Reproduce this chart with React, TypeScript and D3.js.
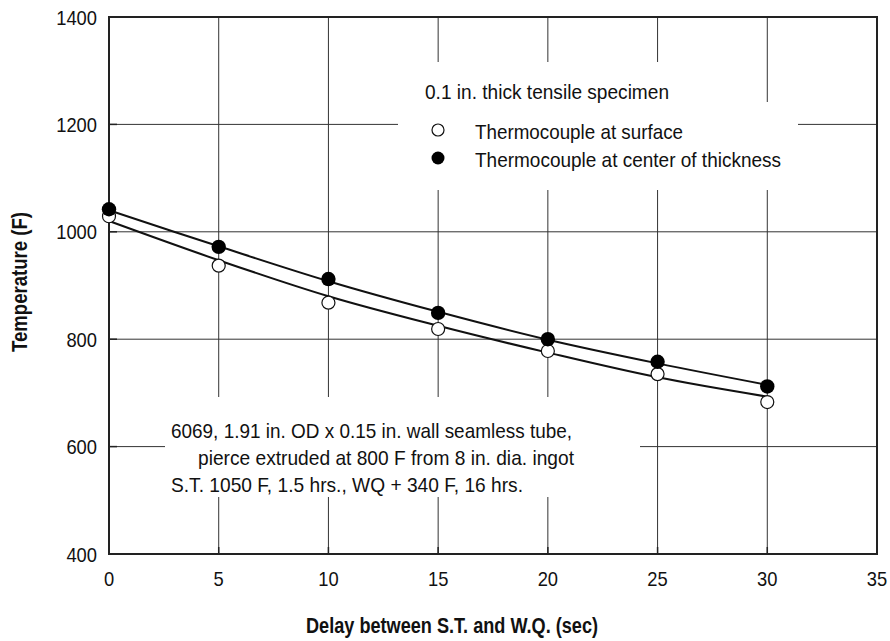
import React from "react";
import * as d3 from "d3";

const xTicks = [0, 5, 10, 15, 20, 25, 30, 35];
const yTicks = [400, 600, 800, 1000, 1200, 1400];

const delays = [0, 5, 10, 15, 20, 25, 30];
const surfaceTemps = [1029, 937, 868, 819, 778, 735, 683];
const centerTemps = [1042, 972, 912, 849, 800, 758, 712];

const upperCurve = [1040, 973, 908, 851, 799, 755, 715];
const lowerCurve = [1020, 947, 880, 825, 775, 729, 693];

const legendTitle = "0.1 in. thick tensile specimen";
const legendLabels = ["Thermocouple at surface", "Thermocouple at center of thickness"];
const noteLines = [
  "6069, 1.91 in. OD x 0.15 in. wall seamless tube,",
  "pierce extruded at 800 F from 8 in. dia. ingot",
  "S.T. 1050 F, 1.5 hrs., WQ + 340 F, 16 hrs.",
];

const FONT = "'Liberation Sans', Arial, sans-serif";

function NText(props: {
  x: number;
  y: number;
  w: number;
  size?: number;
  anchor?: string;
  bold?: boolean;
  transform?: string;
  children: React.ReactNode;
}) {
  return (
    <text
      x={props.x}
      y={props.y}
      transform={props.transform}
      textAnchor={props.anchor || "start"}
      fontFamily={FONT}
      fontSize={props.size || 21}
      fontWeight={props.bold ? "bold" : "normal"}
      textLength={props.w}
      lengthAdjust="spacingAndGlyphs"
      fill="#111"
    >
      {props.children}
    </text>
  );
}

export default function App() {
  const W = 890, H = 641;
  const L = 109, R = 877, T = 17, B = 554;
  const x = d3.scaleLinear().domain([0, 35]).range([L, R]);
  const y = d3.scaleLinear().domain([400, 1400]).range([B, T]);

  const line = d3
    .line<number>()
    .x((_, i) => x(delays[i]))
    .y((d) => y(d))
    .curve(d3.curveCatmullRom.alpha(0.5));

  return (
    <svg width={W} height={H} style={{ position: "absolute", left: 0, top: 0, background: "#fff" }}>
      <rect x={0} y={0} width={W} height={H} fill="#fff" />
      {/* grid */}
      {xTicks.slice(1, -1).map((t) => (
        <line key={"gx" + t} x1={x(t)} x2={x(t)} y1={T} y2={B} stroke="#333" strokeWidth={1} />
      ))}
      {yTicks.slice(1, -1).map((t) => (
        <line key={"gy" + t} x1={L} x2={R} y1={y(t)} y2={y(t)} stroke="#333" strokeWidth={1} />
      ))}
      {/* white boxes behind text */}
      <rect x={398} y={62} width={367} height={40} fill="#fff" />
      <rect x={398} y={102} width={400} height={88} fill="#fff" />
      <rect x={165} y={397} width={475} height={100} fill="#fff" />
      {/* inward ticks */}
      {xTicks.slice(1, -1).map((t) => (
        <line key={"tx" + t} x1={x(t)} x2={x(t)} y1={B} y2={B - 7} stroke="#222" strokeWidth={1.5} />
      ))}
      {yTicks.slice(1, -1).map((t) => (
        <line key={"ty" + t} x1={L} x2={L + 8} y1={y(t)} y2={y(t)} stroke="#222" strokeWidth={1.5} />
      ))}
      {/* frame */}
      <rect x={L} y={T} width={R - L} height={B - T} fill="none" stroke="#222" strokeWidth={2} />
      {/* curves */}
      <path d={line(upperCurve) || ""} fill="none" stroke="#111" strokeWidth={2} />
      <path d={line(lowerCurve) || ""} fill="none" stroke="#111" strokeWidth={2} />
      {/* points */}
      {surfaceTemps.map((v, i) => (
        <circle key={"s" + i} cx={x(delays[i])} cy={y(v)} r={6.5} fill="#fff" stroke="#111" strokeWidth={1.2} />
      ))}
      {centerTemps.map((v, i) => (
        <circle key={"c" + i} cx={x(delays[i])} cy={y(v)} r={7.2} fill="#000" />
      ))}
      {/* tick labels */}
      {xTicks.map((t) => (
        <NText key={"lx" + t} x={x(t)} y={586} anchor="middle" w={String(t).length * 10.2}>
          {t}
        </NText>
      ))}
      {yTicks.map((t) => (
        <NText key={"ly" + t} x={97} y={y(t) + 7.5} anchor="end" w={String(t).length * 10.2}>
          {t}
        </NText>
      ))}
      {/* axis titles */}
      <NText x={452} y={633} anchor="middle" size={22} bold w={292}>
        Delay between S.T. and W.Q. (sec)
      </NText>
      <NText
        x={0}
        y={0}
        transform={`translate(27, 282) rotate(-90)`}
        anchor="middle"
        size={22}
        bold
        w={140}
      >
        Temperature (F)
      </NText>
      {/* legend */}
      <NText x={425} y={99} w={244}>
        {legendTitle}
      </NText>
      <circle cx={438} cy={130} r={6} fill="#fff" stroke="#111" strokeWidth={1.2} />
      <NText x={475} y={139} w={208}>
        {legendLabels[0]}
      </NText>
      <circle cx={438} cy={158} r={6.5} fill="#000" />
      <NText x={475} y={167} w={306}>
        {legendLabels[1]}
      </NText>
      {/* note */}
      <NText x={171} y={438} w={401}>
        {noteLines[0]}
      </NText>
      <NText x={198} y={465} w={376}>
        {noteLines[1]}
      </NText>
      <NText x={171} y={492} w={352}>
        {noteLines[2]}
      </NText>
    </svg>
  );
}
